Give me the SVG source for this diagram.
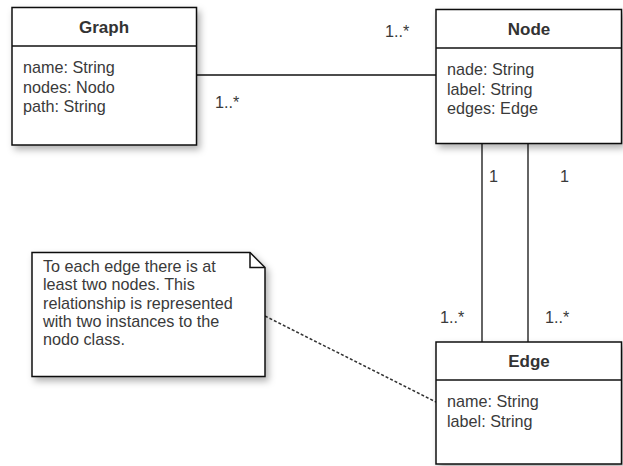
<svg xmlns="http://www.w3.org/2000/svg" width="623" height="466" viewBox="0 0 623 466">
<defs>
<filter id="sh" x="-10%" y="-10%" width="130%" height="130%">
<feDropShadow dx="3" dy="4" stdDeviation="3.5" flood-color="#000" flood-opacity="0.3"/>
</filter>
<style>
.box{fill:#fff;stroke:#111;stroke-width:1.5}
.div{stroke:#111;stroke-width:1.5;fill:none}
.title{font-family:"Liberation Sans",Arial,sans-serif;font-size:17px;font-weight:bold;fill:#333;text-anchor:middle}
.attr{font-family:"Liberation Sans",Arial,sans-serif;font-size:16.2px;fill:#3a3a3a}
.lbl{font-family:"Liberation Sans",Arial,sans-serif;font-size:16.2px;fill:#3a3a3a}
.conn{stroke:#111;stroke-width:1.3;fill:none}
.dash{stroke:#333;stroke-width:1.5;stroke-dasharray:3,2;fill:none}
</style>
</defs>
<rect width="623" height="466" fill="#fff"/>
<g id="connectors">
<line class="conn" x1="197" y1="75" x2="436" y2="75"/>
<line class="conn" x1="482" y1="143" x2="482" y2="342"/>
<line class="conn" x1="528" y1="143" x2="528" y2="342"/>
<line class="dash" x1="265" y1="316" x2="436" y2="402"/>
<text class="lbl" x="385" y="37">1..*</text>
<text class="lbl" x="215" y="108">1..*</text>
<text class="lbl" x="489" y="182">1</text>
<text class="lbl" x="560" y="182">1</text>
<text class="lbl" x="440" y="323">1..*</text>
<text class="lbl" x="545" y="323">1..*</text>
</g>
<g id="graph">
<rect class="box" x="12" y="7.5" width="184.5" height="137.5" filter="url(#sh)"/>
<line class="div" x1="12" y1="46" x2="196.5" y2="46"/>
<text class="title" x="104" y="33">Graph</text>
<text class="attr" x="23" y="73">name: String</text>
<text class="attr" x="23" y="92.5">nodes: Nodo</text>
<text class="attr" x="23" y="112">path: String</text>
</g>
<g id="node">
<rect class="box" x="436" y="9.5" width="185.5" height="134" filter="url(#sh)"/>
<line class="div" x1="436" y1="48" x2="621.5" y2="48"/>
<text class="title" x="529" y="34.5">Node</text>
<text class="attr" x="447" y="75">nade: String</text>
<text class="attr" x="447" y="94.5">label: String</text>
<text class="attr" x="447" y="114">edges: Edge</text>
</g>
<g id="edge">
<rect class="box" x="436" y="342" width="185.5" height="122" filter="url(#sh)"/>
<line class="div" x1="436" y1="380" x2="621.5" y2="380"/>
<text class="title" x="529" y="367">Edge</text>
<text class="attr" x="447" y="406.5">name: String</text>
<text class="attr" x="447" y="426.5">label: String</text>
</g>
<g id="note">
<path class="box" d="M32,252.5 H250 L265,267.5 V376.5 H32 Z" filter="url(#sh)"/>
<path class="div" d="M250,252.5 V267.5 H265" stroke-width="1"/>
<text class="attr" x="43" y="272">To each edge there is at</text>
<text class="attr" x="43" y="290.3">least two nodes. This</text>
<text class="attr" x="43" y="308.6">relationship is represented</text>
<text class="attr" x="43" y="326.9">with two instances to the</text>
<text class="attr" x="43" y="345">nodo class.</text>
</g>
</svg>
